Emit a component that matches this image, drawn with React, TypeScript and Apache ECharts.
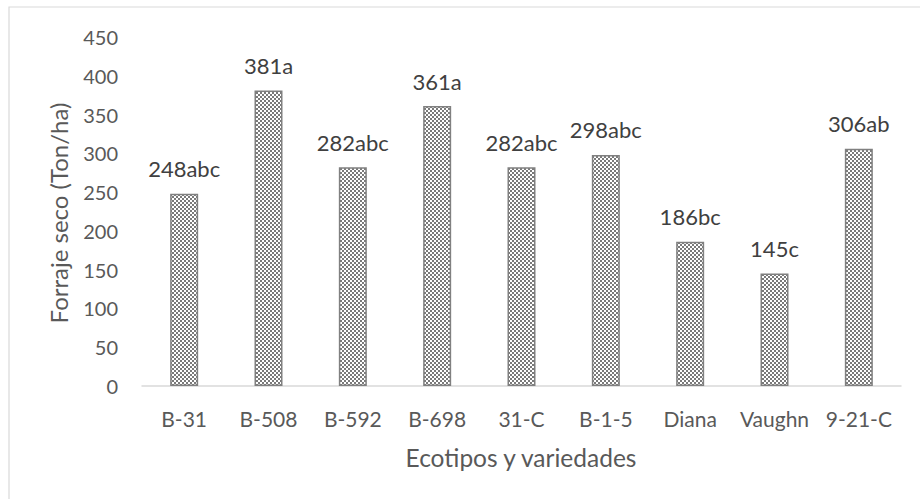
import React, { useEffect, useRef } from "react";
import * as echarts from "echarts";

const categories = ["B-31", "B-508", "B-592", "B-698", "31-C", "B-1-5", "Diana", "Vaughn", "9-21-C"];
const values = [248, 381, 282, 361, 282, 298, 186, 145, 306];
const letters = ["abc", "a", "abc", "a", "abc", "abc", "bc", "c", "ab"];
const yTitle = "Forraje seco (Ton/ha)";
const xTitle = "Ecotipos y variedades";

function makePattern(): HTMLCanvasElement {
  const c = document.createElement("canvas");
  c.width = 4;
  c.height = 4;
  const ctx = c.getContext("2d")!;
  ctx.fillStyle = "#ffffff";
  ctx.fillRect(0, 0, 4, 4);
  ctx.fillStyle = "#7a7a7a";
  ctx.fillRect(0, 0, 2, 2);
  ctx.fillRect(2, 2, 2, 2);
  return c;
}

export default function App() {
  const ref = useRef<HTMLDivElement>(null);
  useEffect(() => {
    if (!ref.current) return;
    const chart = echarts.init(ref.current, undefined, { renderer: "svg" });
    const font = "Lato";
    chart.setOption({
      animation: false,
      backgroundColor: "#ffffff",
      textStyle: { fontFamily: font },
      grid: { left: 142, right: 19, top: 37, bottom: 113, containLabel: false },
      xAxis: {
        type: "category",
        data: categories,
        axisLine: { show: true, lineStyle: { color: "#d9d9d9", width: 1.5 } },
        axisTick: { show: false },
        axisLabel: { color: "#595959", fontSize: 21, fontFamily: font, margin: 22, interval: 0 },
      },
      yAxis: {
        type: "value",
        min: 0,
        max: 450,
        interval: 50,
        axisLine: { show: false },
        axisTick: { show: false },
        splitLine: { show: false },
        axisLabel: { color: "#595959", fontSize: 20, fontFamily: font, margin: 24 },
      },
      graphic: [
        {
          type: "rect",
          shape: { x: 9, y: 7, width: 1000, height: 1000 },
          style: { fill: "none", stroke: "#d9d9d9", lineWidth: 1.2 },
          silent: true,
          z: -1,
        },
        {
          type: "text",
          x: 58,
          y: 213,
          rotation: Math.PI / 2,
          style: {
            text: yTitle,
            align: "center",
            verticalAlign: "middle",
            fill: "#595959",
            fontSize: 24,
            fontFamily: font,
          },
        },
        {
          type: "text",
          x: 521,
          y: 457,
          style: {
            text: xTitle,
            align: "center",
            verticalAlign: "middle",
            fill: "#595959",
            fontSize: 24.5,
            fontFamily: font,
          },
        },
      ],
      series: [
        {
          type: "bar",
          data: values,
          barWidth: 28,
          itemStyle: {
            color: { image: makePattern(), repeat: "repeat" },
            borderColor: "#808080",
            borderWidth: 1.5,
          },
          label: {
            show: true,
            position: "top",
            distance: 14,
            color: "#404040",
            fontSize: 22,
            fontFamily: font,
            formatter: (p: any) => `${p.value}${letters[p.dataIndex]}`,
          },
        },
      ],
    });
    return () => chart.dispose();
  }, []);
  return (
    <div
      ref={ref}
      style={{ position: "fixed", left: 0, top: 0, width: 920, height: 499 }}
    />
  );
}
